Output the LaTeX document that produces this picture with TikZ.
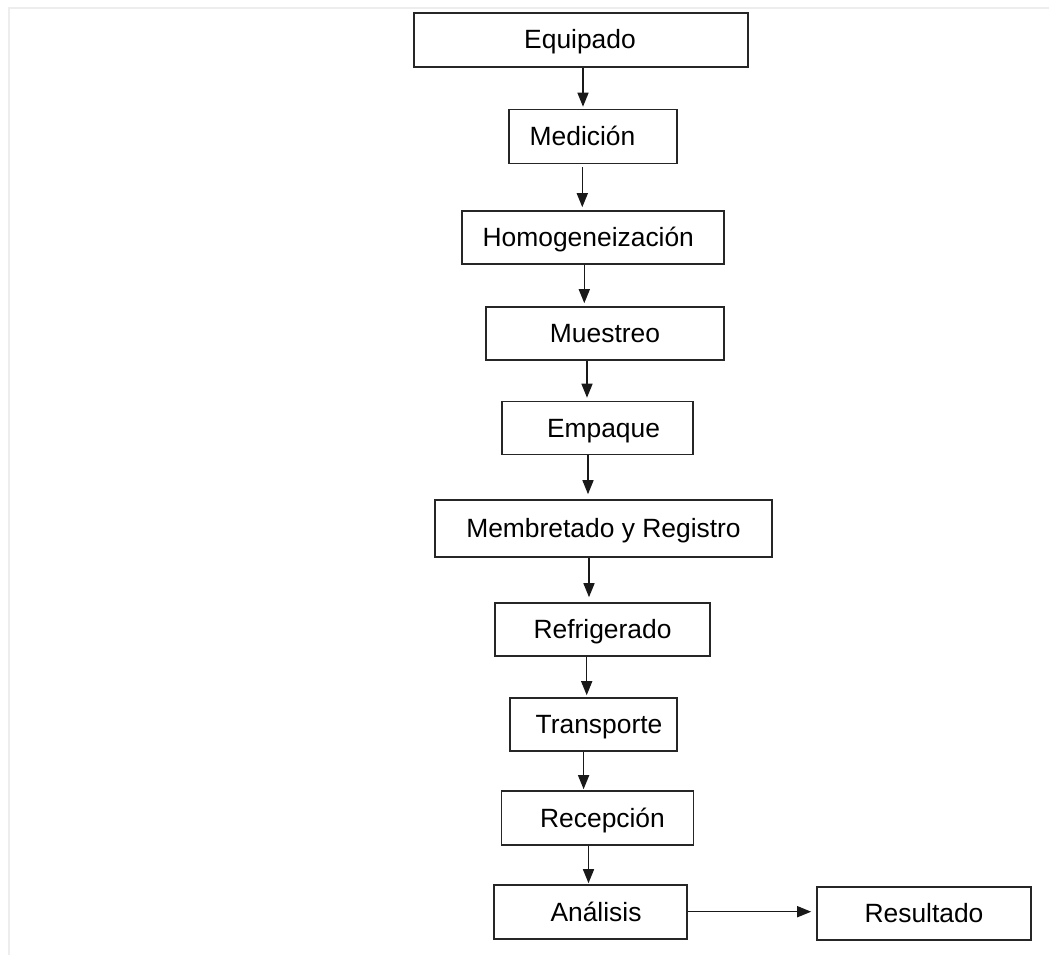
\documentclass[tikz,border=0pt]{standalone}
\usepackage{fontspec}
\setmainfont{Liberation Sans}
\usetikzlibrary{arrows.meta}

% content shifted sideways inside its box without changing its width
\newcommand{\nudge}[2]{\kern#1pt #2\kern-#1pt}

\begin{document}
\begin{tikzpicture}[x=1pt,y=-1pt,
  stepbox/.style={draw=black!85, line width=1.6pt, rectangle, inner sep=0pt,
    text height=18pt, text depth=0pt,
    font=\fontsize{26.4}{30}\selectfont, text=black},
  arr/.style={draw=black!90, line width=1.5pt,
    -{Triangle[length=14pt,width=11pt]}},
  sheet/.style={draw=black!7, line width=2pt}
]
\useasboundingbox (0,0) rectangle (1049,955);

% faint sheet edge
\coordinate (pgtl) at (9,8);
\coordinate (pgtr) at (1049,8);
\coordinate (pgbl) at (9,955);
\draw[sheet] (pgbl) -- (pgtl) -- (pgtr);

% process steps
\node[stepbox, minimum width=334, minimum height=54] (equip) at (581,40)    {\nudge{-1}{Equipado}};
\node[stepbox, minimum width=168, minimum height=54] (medic) at (593,136.5) {\nudge{-10.5}{Medición}};
\node[stepbox, minimum width=262, minimum height=53] (homog) at (593,237.5) {\nudge{-4.7}{Homogeneización}};
\node[stepbox, minimum width=238, minimum height=53] (muest) at (605,333.5) {Muestreo};
\node[stepbox, minimum width=191, minimum height=53] (empaq) at (597.5,428) {\nudge{6}{Empaque}};
\node[stepbox, minimum width=337, minimum height=57] (membr) at (603.5,528.5) {Membretado y Registro};
\node[stepbox, minimum width=215, minimum height=53] (refri) at (602.5,629.5) {Refrigerado};
\node[stepbox, minimum width=167, minimum height=53] (trans) at (593.5,724.5) {\nudge{5.5}{Transporte}};
\node[stepbox, minimum width=192, minimum height=54] (recep) at (597.5,818)  {\nudge{5}{Recepción}};
\node[stepbox, minimum width=193, minimum height=54] (anali) at (590.5,912)  {\nudge{5.5}{Análisis}};
\node[stepbox, minimum width=214, minimum height=53] (resul) at (924,913.5)  {Resultado};

% vertical lines of the connectors
\coordinate (xa) at (583,0);
\coordinate (xb) at (582.3,0);
\coordinate (xc) at (584.3,0);
\coordinate (xd) at (587,0);
\coordinate (xe) at (588,0);
\coordinate (xf) at (589,0);
\coordinate (xg) at (586.7,0);
\coordinate (xh) at (583.6,0);
\coordinate (xi) at (588.5,0);
\coordinate (yj) at (0,911.7);

\draw[arr, shorten >=2pt] (equip.south -| xa) -- (medic.north -| xa);
\draw[arr, shorten <=3pt, shorten >=3pt] (medic.south -| xb) -- (homog.north -| xb);
\draw[arr, shorten >=3pt] (homog.south -| xc) -- (muest.north -| xc);
\draw[arr, shorten >=3pt] (muest.south -| xd) -- (empaq.north -| xd);
\draw[arr, shorten >=5pt] (empaq.south -| xe) -- (membr.north -| xe);
\draw[arr, shorten >=5pt] (membr.south -| xf) -- (refri.north -| xf);
\draw[arr, shorten >=2pt] (refri.south -| xg) -- (trans.north -| xg);
\draw[arr, shorten >=1pt] (trans.south -| xh) -- (recep.north -| xh);
\draw[arr, shorten >=1pt] (recep.south -| xi) -- (anali.north -| xi);
\draw[arr, shorten >=5pt] (anali.east |- yj) -- (resul.west |- yj);
\end{tikzpicture}
\end{document}
